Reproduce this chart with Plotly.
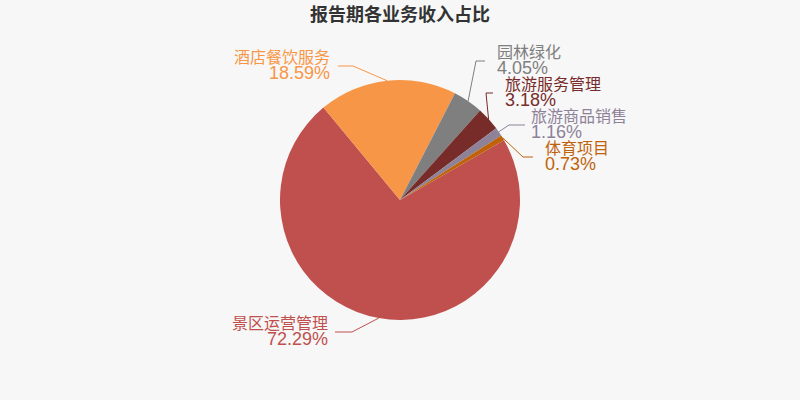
import math
import plotly.graph_objects as go

# ---- data ----
names = ['景区运营管理', '酒店餐饮服务', '园林绿化', '旅游服务管理', '旅游商品销售', '体育项目']
values = [72.29, 18.59, 4.05, 3.18, 1.16, 0.73]
title_text = '报告期各业务收入占比'

# ---- style ----
colors = ['#c0504d', '#f79646', '#7f7f7f', '#772c2a', '#8e8299', '#c0620a']
W, H = 800, 400
CX, CY, R = 400, 200, 120
ROTATION = 60.1  # degrees clockwise from 12 o'clock where the first slice starts
BG = '#f7f7f7'
FONT = 'Liberation Sans, Noto Sans CJK SC, sans-serif'

# label layout (pixel): elbow point, horizontal segment length, gap to text
elbows = [(352, 332), (353, 66), (476, 61), (486, 93), (509, 125), (523, 157)]
seg_len = [17, 15, 9, 7, 16, 10]
gap = [5, 6, 10, 10, 4, 10]


def px(x):
    return x / W


def py(y):
    return 1 - y / H


fig = go.Figure(go.Pie(
    labels=names, values=values, sort=False, direction='clockwise',
    rotation=ROTATION, textinfo='none', hoverinfo='label+percent',
    marker=dict(colors=colors, line=dict(width=0)),
    domain=dict(x=[(CX - R) / W, (CX + R) / W], y=[(H - CY - R) / H, (H - CY + R) / H]),
    showlegend=False,
))

total = sum(values)
cum = 0.0
shapes = []
annotations = []
for i, (n, v) in enumerate(zip(names, values)):
    mid = ROTATION + (cum + v / 2) / total * 360
    cum += v
    a = math.radians(mid)
    ex, ey = CX + R * math.sin(a), CY - R * math.cos(a)
    bx, by = elbows[i]
    right = ex > CX
    s = 1 if right else -1
    hx = bx + s * seg_len[i]
    tx = hx + s * gap[i]
    shapes.append(dict(
        type='path', xref='paper', yref='paper',
        path=f'M {px(ex)},{py(ey)} L {px(bx)},{py(by)} L {px(hx)},{py(by)}',
        line=dict(color=colors[i], width=1),
    ))
    anchor = 'left' if right else 'right'
    annotations.append(dict(
        text=(f'<span style="font-size:16px">{n}</span><br>'
              f'<span style="font-size:18px">{v:.2f}%</span>'),
        x=px(tx), y=py(by), xref='paper', yref='paper',
        xanchor=anchor, yanchor='middle', align=anchor, showarrow=False,
        font=dict(size=12.5, color=colors[i], family=FONT),
    ))

annotations.append(dict(
    text=title_text, x=0.5, y=py(14), xref='paper', yref='paper',
    xanchor='center', yanchor='middle', showarrow=False,
    font=dict(size=18, color='#333333', family=FONT, weight='bold'),
))

fig.update_layout(
    width=W, height=H, margin=dict(l=0, r=0, t=0, b=0),
    paper_bgcolor=BG, plot_bgcolor=BG,
    shapes=shapes, annotations=annotations,
)

fig.write_html('out.html', config={'displayModeBar': False},
               post_script="document.body.style.margin='0';document.body.style.overflow='hidden';")
